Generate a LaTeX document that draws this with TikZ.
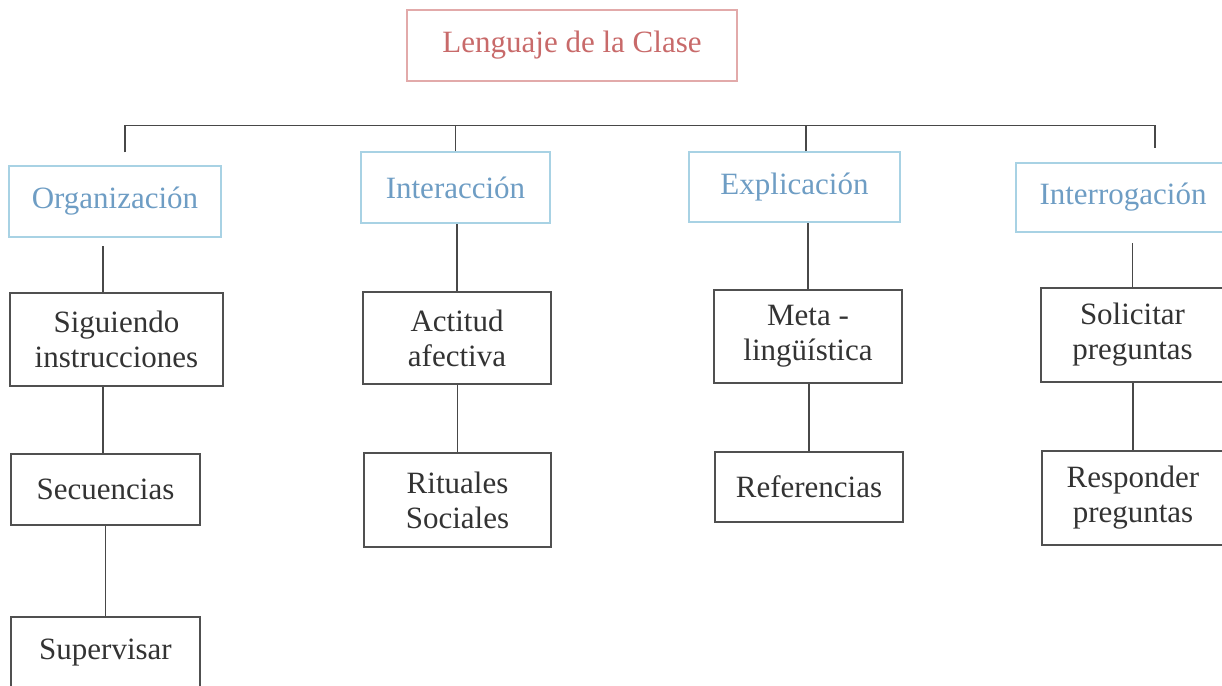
\documentclass[tikz,border=0pt]{standalone}
\usepackage{fontspec}
\setmainfont{Liberation Serif}
\definecolor{titletxt}{HTML}{C86A6A}
\definecolor{titleedge}{HTML}{E2AAAA}
\definecolor{cattxt}{HTML}{6E9DC4}
\definecolor{catedge}{HTML}{A8D2E4}
\definecolor{subtxt}{HTML}{333333}
\definecolor{subedge}{HTML}{505050}
\definecolor{linkcol}{HTML}{484848}
\tikzset{
  base/.style={rectangle, inner sep=0pt, align=center, font=\fontsize{31}{35}\selectfont},
  titlebox/.style={base, draw=titleedge, line width=1.2pt, text=titletxt},
  catbox/.style={base, draw=catedge, line width=1.2pt, text=cattxt},
  subbox/.style={base, draw=subedge, line width=1.3pt, text=subtxt},
  link/.style={draw=linkcol, line width=1.4pt}
}
\begin{document}
\begin{tikzpicture}[x=1pt,y=-1pt]
\useasboundingbox (0,0) rectangle (1222,685);
\clip (0,0) rectangle (1222,685);
% title
\node[titlebox, minimum width=330pt, minimum height=71pt] (title) at (572,45.5) {Lenguaje de la Clase};
% categories
\node[catbox, minimum width=212pt, minimum height=71pt] (org) at (115,201.5) {Organización};
\node[catbox, minimum width=189pt, minimum height=71pt] (int) at (455.5,187.5) {Interacción};
\node[catbox, minimum width=211pt, minimum height=70pt] (exp) at (794.5,187) {Explicación};
\node[catbox, minimum width=214pt, minimum height=69pt] (irg) at (1123,197.5) {Interrogación};
% level 2
\node[subbox, minimum width=213pt, minimum height=93pt] (sig) at (116.5,339.5) {Siguiendo\\instrucciones};
\node[subbox, minimum width=188pt, minimum height=92pt] (act) at (457,338) {Actitud\\afectiva};
\node[subbox, minimum width=188pt, minimum height=93pt] (meta) at (808,336.5) {Meta -\\lingüística};
\node[subbox, minimum width=183pt, minimum height=94pt] (sol) at (1132.5,335) {Solicitar\\preguntas};
% level 3
\node[subbox, minimum width=189pt, minimum height=71pt] (sec) at (105.5,489.5) {Secuencias};
\node[subbox, minimum width=187pt, minimum height=94pt] (rit) at (457.5,500) {Rituales\\Sociales};
\node[subbox, minimum width=188pt, minimum height=70pt] (ref) at (809,487) {Referencias};
\node[subbox, minimum width=182pt, minimum height=94pt] (resp) at (1133,498) {Responder\\preguntas};
% level 4
\node[subbox, minimum width=189pt, minimum height=71pt] (sup) at (105.5,652.5) {Supervisar};
% bar coordinates
\coordinate (barL) at ([xshift=10pt,yshift=40pt]org.north);
\coordinate (barR) at ([xshift=32pt,yshift=37pt]irg.north);
% top bar and drops
\draw[link] ([xshift=10pt,yshift=13pt]org.north) -- (barL) -- (barR) -- ([xshift=32pt,yshift=14pt]irg.north);
\draw[link] (int.north) -- (int.north |- barL);
\draw[link] ([xshift=11.5pt]exp.north) -- ([xshift=11.5pt]exp.north |- barL);
% vertical links
\draw[link] ([xshift=-13.5pt]sig.north) -- ([xshift=-13.5pt,yshift=-8pt]sig.north |- org.south);
\draw[link] ([xshift=-2.5pt]sec.north) -- ([xshift=-2.5pt]sec.north |- sig.south);
\draw[link] (sup.north) -- (sup.north |- sec.south);
\draw[link] (act.north) -- (act.north |- int.south);
\draw[link] (rit.north) -- (rit.north |- act.south);
\draw[link] (meta.north) -- (meta.north |- exp.south);
\draw[link] (ref.north) -- (ref.north |- meta.south);
\draw[link] (sol.north) -- ([yshift=-10pt]sol.north |- irg.south);
\draw[link] (resp.north) -- (resp.north |- sol.south);
\end{tikzpicture}
\end{document}
